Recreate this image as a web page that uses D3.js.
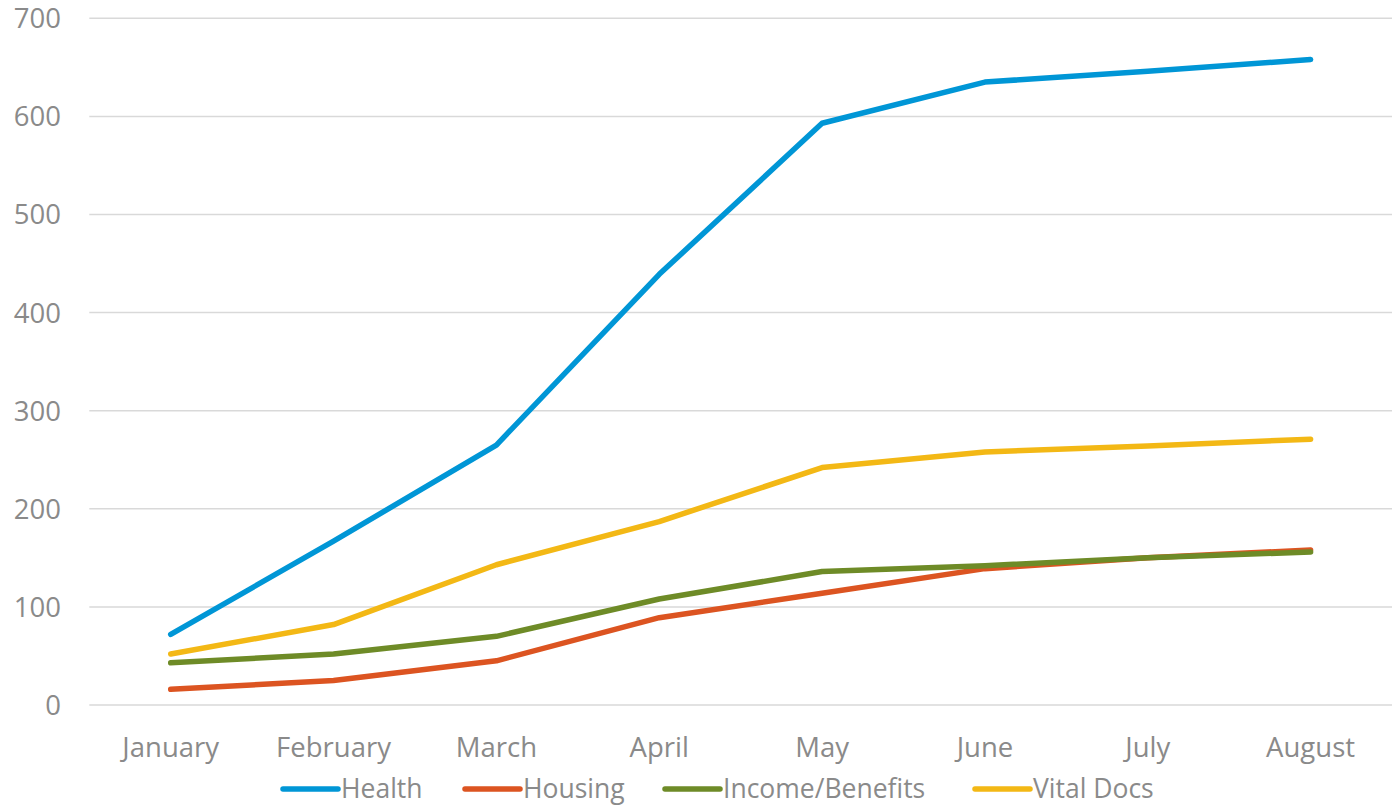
<!DOCTYPE html>
<html><head><meta charset="utf-8">
<script src="https://cdn.jsdelivr.net/npm/d3@7"></script>
<style>body{margin:0;background:#fff;} text{font-family:"Open Sans",sans-serif;}</style>
</head><body><svg id="c" width="1396" height="808"></svg>
<script>
const months = ["January","February","March","April","May","June","July","August"];
const seriesNames = ["Health","Housing","Income/Benefits","Vital Docs"];
const health = [72,167,265,439,593,635,646,658];
const housing = [16,25,45,89,114,139,150,158];
const income = [43,52,70,108,136,142,150,156];
const vital = [52,82,143,187,242,258,264,271];
const yTicks = [0,100,200,300,400,500,600,700];
const colors = ["#0096d6","#dc5421","#6e8b27","#f3b815"];

const series = [health,housing,income,vital];
const svg = d3.select("#c");
const x = d3.scaleBand().domain(months).range([89.3,1392]);
const y = d3.scaleLinear().domain([0,700]).range([705,18.3]);
const txt = "#8a8a8a";
const fs = 27.5;

svg.append("g").selectAll("line").data(yTicks).join("line")
  .attr("x1",89.3).attr("x2",1392).attr("y1",d=>y(d)).attr("y2",d=>y(d))
  .attr("stroke","#d9d9d9").attr("stroke-width",1.5);

svg.append("g").selectAll("text").data(yTicks).join("text")
  .attr("x",61).attr("y",d=>y(d)).attr("dy","0.36em").attr("text-anchor","end")
  .attr("fill",txt).attr("font-size",fs).text(d=>d);

svg.append("g").selectAll("text").data(months).join("text")
  .attr("x",d=>x(d)+x.bandwidth()/2).attr("y",757).attr("text-anchor","middle")
  .attr("fill",txt).attr("font-size",fs).text(d=>d);

const line = d3.line().x((d,i)=>x(months[i])+x.bandwidth()/2).y(d=>y(d));
svg.append("g").selectAll("path").data(series).join("path")
  .attr("d",line).attr("fill","none").attr("stroke",(d,i)=>colors[i])
  .attr("stroke-width",5.5).attr("stroke-linecap","round").attr("stroke-linejoin","round");

const legX = [283,465,665,975];
const lg = svg.append("g").selectAll("g").data(seriesNames).join("g")
  .attr("transform",(d,i)=>`translate(${legX[i]},789)`);
lg.append("line").attr("x1",0).attr("x2",55).attr("stroke",(d,i)=>colors[i])
  .attr("stroke-width",5.5).attr("stroke-linecap","round");
lg.append("text").attr("x",58).attr("dy","0.34em").attr("fill",txt).attr("font-size",26.5).text(d=>d);
</script></body></html>
